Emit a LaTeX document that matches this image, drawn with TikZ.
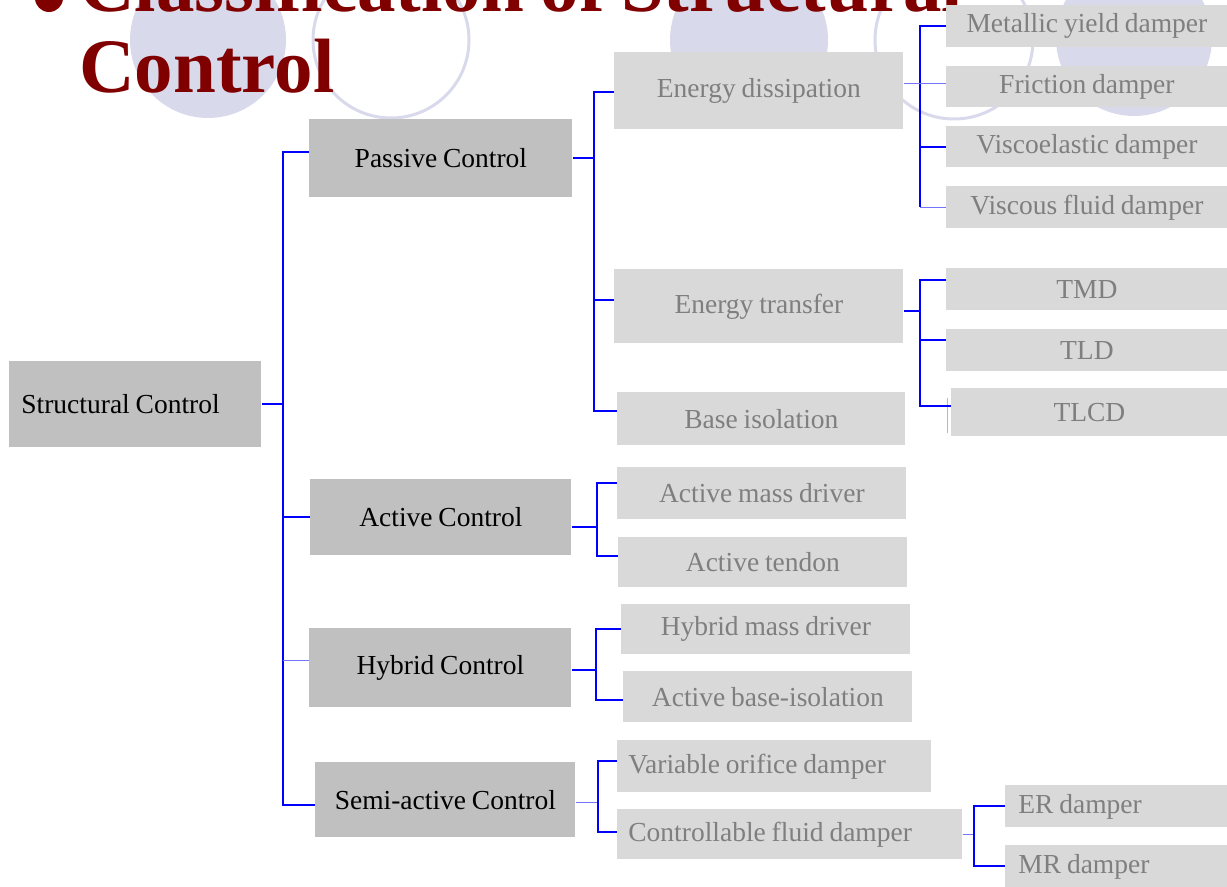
\documentclass[tikz,border=0pt]{standalone}
\usepackage{fontspec}
\setmainfont[WordSpace=0.85]{Liberation Serif}
\usetikzlibrary{positioning}

\definecolor{mainfill}{HTML}{C0C0C0}
\definecolor{subfill}{HTML}{D9D9D9}
\definecolor{subtext}{HTML}{7F7F7F}
\definecolor{linkblue}{HTML}{0000FF}
\definecolor{ringcol}{HTML}{D9D9EC}
\definecolor{titlered}{HTML}{800000}

\tikzset{
  main/.style={anchor=north west, fill=mainfill, text=black, inner sep=0pt,
    font=\fontsize{13.75}{16}\selectfont},
  sub/.style={main, fill=subfill, text=subtext},
  link/.style={draw=linkblue, line width=1pt},
  faint/.style={draw=linkblue!55, line width=0.8pt},
  ring/.style={draw=ringcol, line width=1.5pt}
}

\begin{document}
\begin{tikzpicture}[x=0.5pt,y=-0.5pt]
\useasboundingbox (0,0) rectangle (1227,887);

% Background rings
\fill[ringcol] (208,40) circle (39pt);
\draw[ring] (391,40) circle (39pt);
\fill[ringcol] (749,40) circle (39.5pt);
\draw[ring] (954,40) circle (39.5pt);
\fill[ringcol] (1134,38) circle (39pt);

% Title (first line runs off the top)
\fill[titlered] (49,-2) circle (7pt);
\node[anchor=base west, inner sep=0pt, align=flush left, text=titlered,
  font=\bfseries\fontsize{38.5}{40.5}\selectfont] (title) at (79,93)
  {Classification of Structural\\Control};

% Top level
\node[main, text width=114pt, inner xsep=6pt, minimum height=43pt, align=flush left] (sc) at (9,361) {Structural Control};
\node[main, minimum width=131.5pt, minimum height=39pt] (pc) at (309,119) {Passive Control};
\node[main, minimum width=130.5pt, minimum height=38pt] (ac) at (310,479) {Active Control};
\node[main, minimum width=131pt, minimum height=39.5pt] (hc) at (309,628) {Hybrid Control};
\node[main, minimum width=130pt, minimum height=37.5pt] (sac) at (315,762) {Semi-active Control};

% Passive branch
\node[sub, minimum width=144.5pt, minimum height=38.5pt] (ed) at (614,52) {Energy dissipation};
\node[sub, minimum width=144.5pt, minimum height=37pt] (et) at (614,269) {Energy transfer};
\node[sub, minimum width=144pt, minimum height=26.5pt] (bi) at (617,392) {Base isolation};

\node[sub, minimum width=140.5pt, minimum height=21pt] (my) at (946,5) {Metallic yield damper};
\node[sub, minimum width=140.5pt, minimum height=20.5pt] (fd) at (946,66) {Friction damper};
\node[sub, minimum width=140.5pt, minimum height=20.5pt] (vd) at (946,126) {Viscoelastic damper};
\node[sub, minimum width=140.5pt, minimum height=21pt] (vf) at (946,186) {Viscous fluid damper};

\node[sub, minimum width=140.5pt, minimum height=21pt] (tmd) at (946,268) {TMD};
\node[sub, minimum width=140.5pt, minimum height=21pt] (tld) at (946,329) {TLD};
\node[sub, minimum width=138pt, minimum height=24pt] (tlcd) at (951,388) {TLCD};
\draw[subfill!85!black, line width=0.5pt] ([xshift=-2pt,yshift=-5pt]tlcd.north west) -- ([xshift=-2pt,yshift=2pt]tlcd.south west);

% Active and hybrid branches
\node[sub, minimum width=144.5pt, minimum height=26pt] (amd) at (617,467) {Active mass driver};
\node[sub, minimum width=144.5pt, minimum height=25pt] (atd) at (618,537) {Active tendon};
\node[sub, minimum width=144.5pt, minimum height=25pt] (hmd) at (621,604) {Hybrid mass driver};
\node[sub, minimum width=144.5pt, minimum height=25.5pt] (abi) at (623,671) {Active base-isolation};

% Semi-active branch
\node[sub, text width=146pt, inner xsep=5.5pt, minimum height=26pt, align=flush left] (vod) at (617,740) {Variable orifice damper};
\node[sub, text width=161.5pt, inner xsep=5.5pt, minimum height=25pt, align=flush left] (cfd) at (617,809) {Controllable fluid damper};
\node[sub, text width=98pt, inner xsep=6.5pt, minimum height=21pt, align=flush left] (er) at (1005,785) {ER damper};
\node[sub, text width=98pt, inner xsep=6.5pt, minimum height=21pt, align=flush left] (mr) at (1005,845) {MR damper};

% Bus lines
\coordinate (b0) at (283,0);
\coordinate (b1) at (594,0);
\coordinate (b2) at (920,0);
\coordinate (b4) at (597,0);
\coordinate (b5) at (596,0);
\coordinate (b6) at (598,0);
\coordinate (b7) at (974,0);

% Level 1
\draw[link] (sc.east) -- (sc.east -| b0);
\draw[link] ([yshift=3pt]pc.west) -| ([yshift=-2.75pt]sac.west -| b0) -- ([yshift=-2.75pt]sac.west);
\draw[link] (ac.west) -- (ac.west -| b0);
\draw[faint] ([yshift=3.75pt]hc.west) -- ([yshift=3.75pt]hc.west -| b0);

% Passive
\draw[link] (pc.east) -- (pc.east -| b1);
\draw[link] ([yshift=-0.75pt]ed.west) -| ([yshift=3.75pt]bi.west -| b1) -- ([yshift=3.75pt]bi.west);
\draw[link] ([yshift=3pt]et.west) -- ([yshift=3pt]et.west -| b1);

\draw[link] (my.west) -| (vf.west -| b2);
\draw[faint] (vf.west -| b2) -- (vf.west);
\draw[link] (vd.west) -- (vd.west -| b2);
\draw[faint] ([yshift=1.75pt]fd.west) -- ([yshift=1.75pt]fd.west -| ed.east);

\draw[link] ([yshift=-2.5pt]et.east) -- ([yshift=-2.5pt]et.east -| b2);
\draw[link] ([yshift=4.5pt]tmd.west) -| ([yshift=3pt]tlcd.west -| b2) -- ([yshift=3pt]tlcd.west);
\draw[link] ([yshift=5pt]tld.west) -- ([yshift=5pt]tld.west -| b2);

% Active
\draw[link] ([yshift=-5pt]ac.east) -- ([yshift=-5pt]ac.east -| b4);
\draw[link] ([yshift=5pt]amd.west) -| ([yshift=3pt]atd.west -| b4) -- ([yshift=3pt]atd.west);

% Hybrid
\draw[link] ([yshift=-1.25pt]hc.east) -- ([yshift=-1.25pt]hc.east -| b5);
\draw[link] (hmd.west) -| ([yshift=-1.75pt]abi.west -| b5) -- ([yshift=-1.75pt]abi.west);

% Semi-active
\draw[faint] ([yshift=-1.25pt]sac.east) -- ([yshift=-1.25pt]sac.east -| b6);
\draw[link] ([yshift=2.5pt]vod.west) -| ([yshift=1pt]cfd.west -| b6) -- ([yshift=1pt]cfd.west);
\draw[faint] (cfd.east) -- (cfd.east -| b7);
\draw[link] (er.west) -| (mr.west -| b7) -- (mr.west);

\end{tikzpicture}
\end{document}
